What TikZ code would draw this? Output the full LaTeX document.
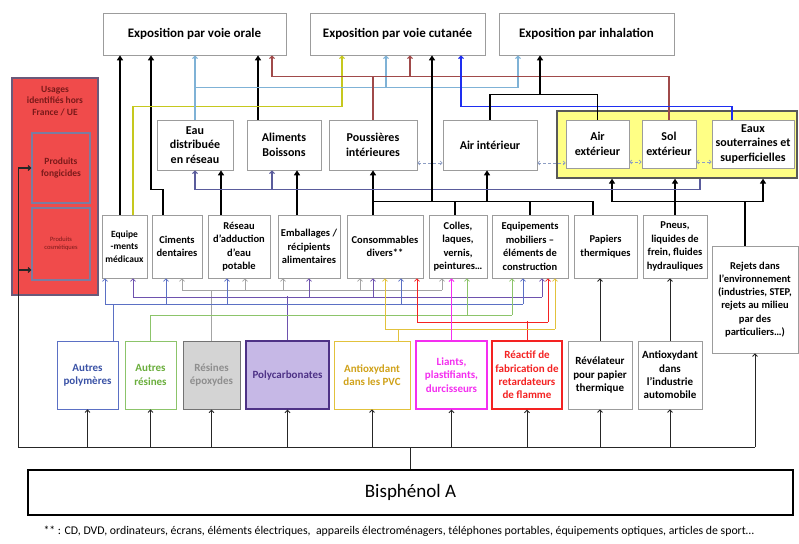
\documentclass[tikz,border=0pt]{standalone}
\usepackage{fontspec}
\setmainfont{Carlito}
\usetikzlibrary{arrows.meta,positioning}

\definecolor{boxgrey}{HTML}{9C9C9C}
\definecolor{cUsRed}{HTML}{F04B4B}
\definecolor{cUsText}{HTML}{7A1A1A}
\definecolor{cUsEdge}{HTML}{6A5A7A}
\definecolor{cUsInner}{HTML}{7C7CA0}
\definecolor{cEnv}{HTML}{FFFF85}
\definecolor{cLtBlue}{HTML}{7FB2D6}
\definecolor{cLime}{HTML}{C6C81E}
\definecolor{cMaroon}{HTML}{A04A4A}
\definecolor{cSlate}{HTML}{5A5C9C}
\definecolor{cBlue}{HTML}{1E2EF0}
\definecolor{cLink}{HTML}{8E9EC4}
\definecolor{cPoly}{HTML}{5B70C4}
\definecolor{cPolyT}{HTML}{3A52A6}
\definecolor{cRes}{HTML}{8CC46A}
\definecolor{cResT}{HTML}{6AAE3C}
\definecolor{cEpo}{HTML}{A4A4A4}
\definecolor{cEpoFill}{HTML}{D4D4D4}
\definecolor{cEpoT}{HTML}{8E8E8E}
\definecolor{cPc}{HTML}{6E52AE}
\definecolor{cPcFill}{HTML}{C6B8E6}
\definecolor{cPcT}{HTML}{4E3286}
\definecolor{cPvc}{HTML}{E2C23C}
\definecolor{cPvcT}{HTML}{D0A21A}
\definecolor{cLia}{HTML}{F42EF0}
\definecolor{cRea}{HTML}{F42222}

\tikzset{
  box/.style={draw=boxgrey, fill=white, align=center, inner sep=1pt, line width=0.6pt},
  expo/.style={box, minimum height=42pt, font=\bfseries\fontsize{13}{15}\selectfont},
  milieu/.style={box, minimum height=50pt, font=\bfseries\fontsize{12}{14.5}\selectfont},
  usage/.style={box, minimum height=63pt, font=\bfseries\fontsize{10.5}{13.5}\selectfont},
  source/.style={box, minimum height=68pt, font=\bfseries\fontsize{11}{13.4}\selectfont},
  envbox/.style={draw=black!65, fill=cEnv, line width=1.3pt},
  redbox/.style={draw=cUsEdge, fill=cUsRed, line width=1.2pt, align=center, text=cUsText},
  bpabox/.style={draw=black, line width=1.6pt, minimum width=765pt, minimum height=45pt,
    font=\fontsize{19}{22}\selectfont},
  blk/.style={black, line width=1.4pt, >={Triangle[length=5pt,width=6pt]}},
  wireb/.style={black!85, line width=0.9pt},
  feed/.style={line width=0.8pt},
  envlink/.style={cLink, densely dashed, line width=0.7pt, >={Straight Barb[length=2pt,width=4pt]}},
}

\begin{document}
\begin{tikzpicture}[x=1pt, y=-1pt, >={Straight Barb[length=2.5pt,width=5pt]}]
  \useasboundingbox (0,0) rectangle (799,543);

  % Define nodes
  % exposure routes
  \node[expo, minimum width=183pt] (orale) at (194.5,34) {Exposition par voie orale};
  \node[expo, minimum width=175pt] (cutanee) at (397.5,34) {Exposition par voie cutanée};
  \node[expo, minimum width=175pt] (inhal) at (586.5,34) {Exposition par inhalation};

  % media
  \node[milieu, minimum width=76pt] (eau) at (195,145) {Eau\\distribuée\\en réseau};
  \node[milieu, minimum width=74pt] (alim) at (284,145) {Aliments\\Boissons};
  \node[milieu, minimum width=88pt] (pouss) at (373,145) {Poussières\\intérieures};
  \node[milieu, minimum width=94pt] (airint) at (490,145) {Air intérieur};
  \node[envbox, minimum width=240pt, minimum height=67pt] (envt) at (677,144.5) {};
  \node[milieu, minimum width=63pt, minimum height=48pt] (airext) at (597.5,144) {Air\\extérieur};
  \node[milieu, minimum width=54pt, minimum height=48pt] (solext) at (669,144) {Sol\\extérieur};
  \node[milieu, minimum width=82pt, minimum height=48pt] (eaux) at (753,144) {Eaux\\souterraines et\\superficielles};

  % products
  \node[usage, minimum width=45pt, font=\bfseries\fontsize{9.5}{12.5}\selectfont] (equip) at (124.5,246.5) {Equipe\\-ments\\médicaux};
  \node[usage, minimum width=50pt] (ciments) at (177,246.5) {Ciments\\dentaires};
  \node[usage, minimum width=62pt] (reseau) at (239,246.5) {Réseau\\d’adduction\\d’eau\\potable};
  \node[usage, minimum width=62pt] (embal) at (309,246.5) {Emballages /\\récipients\\alimentaires};
  \node[usage, minimum width=76pt] (conso) at (385,246.5) {Consommables\\divers**};
  \node[usage, minimum width=58pt] (colles) at (458,246.5) {Colles,\\laques,\\vernis,\\peintures…};
  \node[usage, minimum width=76pt] (mobil) at (530,246.5) {Equipements\\mobiliers –\\éléments de\\construction};
  \node[usage, minimum width=63pt] (papiers) at (605.5,246.5) {Papiers\\thermiques};
  \node[usage, minimum width=64pt] (pneus) at (675,246.5) {Pneus,\\liquides de\\frein, fluides\\hydrauliques};
  \node[box, minimum width=86pt, minimum height=107pt, font=\bfseries\fontsize{10.5}{13.2}\selectfont] (rejets) at (755,299.5) {Rejets dans\\l’environnement\\(industries, STEP,\\rejets au milieu\\par des\\particuliers…)};

  % uses outside France
  \node[redbox, minimum width=86pt, minimum height=217pt] (usages) at (55,186.5) {};
  \node[below=5pt of usages.north, align=center, text=cUsText, font=\bfseries\fontsize{9.5}{11.5}\selectfont] (usagestitle) {Usages\\identifiés hors\\France / UE};
  \node[redbox, draw=cUsInner, minimum width=58pt, minimum height=70pt, font=\bfseries\fontsize{9.5}{11.5}\selectfont] (fongi) at (61,168) {Produits\\fongicides};
  \node[redbox, draw=cUsInner, minimum width=58pt, minimum height=72pt, font=\fontsize{6.5}{8}\selectfont] (cosme) at (61,244) {Produits\\cosmétiques};

  % uses of bisphenol A
  \node[source, minimum width=61pt, draw=cPoly, text=cPolyT] (apoly) at (87.5,375) {Autres\\polymères};
  \node[source, minimum width=51pt, draw=cRes, text=cResT] (ares) at (150.5,375) {Autres\\résines};
  \node[source, minimum width=57pt, draw=black!55, fill=cEpoFill, text=cEpoT, line width=1pt] (repox) at (211.5,375) {Résines\\époxydes};
  \node[source, minimum width=83pt, draw=cPcT, fill=cPcFill, text=cPcT, line width=1.3pt] (pc) at (287.5,375) {Polycarbonates};
  \node[source, minimum width=76pt, draw=cPvc, text=cPvcT] (apvc) at (372,375) {Antioxydant\\dans les PVC};
  \node[source, minimum width=71pt, draw=cLia, text=cLia, line width=1.3pt] (liants) at (451.5,375) {Liants,\\plastifiants,\\durcisseurs};
  \node[source, minimum width=70pt, draw=cRea, text=cRea, line width=1.3pt] (reactif) at (527,375) {Réactif de\\fabrication de\\retardateurs\\de flamme};
  \node[source, minimum width=64pt] (revel) at (600,375) {Révélateur\\pour papier\\thermique};
  \node[source, minimum width=64pt] (aauto) at (670,375) {Antioxydant\\dans\\l’industrie\\automobile};

  \node[bpabox] (bpa) at (410.5,492.5) {Bisphénol A};
  \node[anchor=west, font=\fontsize{11.8}{13}\selectfont] (note) at (40,531) {** : CD, DVD, ordinateurs, écrans, éléments électriques,\ \ appareils électroménagers, téléphones portables, équipements optiques, articles de sport…};

  % Connect the nodes
  % bisphenol A towards its uses
  \path (bpa.north) ++(0,-22) coordinate (bus);
  \path (usages.south west) ++(7,0) coordinate (lfoot);
  \draw[wireb] (bpa.north) -- (bus);
  \draw[wireb] (bus -| lfoot) -- (bus -| rejets);
  \foreach \n in {apoly,ares,repox,pc,apvc,liants,reactif,revel,aauto,rejets}
    \draw[wireb, ->] (bus -| \n) -- (\n.south);
  \draw[wireb, line width=1.2pt, ->] (bus -| lfoot) |- (fongi.west);
  \draw[wireb, line width=1.2pt, ->] (bus -| lfoot) |- ([yshift=-26pt]cosme.west);
  \draw[wireb, ->] (revel.north) -- (revel.north |- papiers.south);
  \draw[wireb, ->] (aauto.north) -- (aauto.north |- pneus.south);

  % uses towards the products
  \draw[feed, cEpo] (repox.north) -- ++(0,-51);
  \draw[feed, cEpo] ([xshift=5pt, yshift=-12pt]ciments.south) -- ([xshift=-16pt, yshift=-12pt]colles.south);
  \foreach \t/\d in {ciments/5, reseau/6, embal/-26, conso/-25, colles/-16}
    \draw[feed, cEpo, <-] ([xshift=\d pt]\t.south) -- ++(0,12);

  \draw[feed, cPc] (pc.north) -- ++(0,-44);
  \draw[feed, cPc] ([xshift=8.5pt, yshift=-19pt]equip.south) -- ([xshift=12pt, yshift=-19pt]mobil.south);
  \foreach \t/\d in {equip/8.5, embal/0, conso/-12, mobil/12}
    \draw[feed, cPc, <-] ([xshift=\d pt]\t.south) -- ++(0,19);

  \draw[feed, cPoly] ([xshift=25.5pt]apoly.north) -- ++(0,-37);
  \draw[feed, cPoly] ([xshift=-19.5pt, yshift=-26pt]equip.south) -- ([xshift=-7pt, yshift=-26pt]mobil.south);
  \foreach \t/\d in {equip/-19.5, ciments/-11, reseau/-12, conso/16, mobil/-7}
    \draw[feed, cPoly, <-] ([xshift=\d pt]\t.south) -- ++(0,26);

  \draw[feed, cRes] (ares.north) -- ++(0,-26);
  \draw[feed, cRes] ([yshift=-37pt]ares.north |- mobil.south) -- ([xshift=-18pt, yshift=-37pt]mobil.south);
  \foreach \t/\d in {colles/9, mobil/-18}
    \draw[feed, cRes, <-] ([xshift=\d pt]\t.south) -- ++(0,37);

  \draw[feed, cRea] (reactif.north) -- ++(0,-19);
  \draw[feed, cRea] ([xshift=32pt, yshift=-44pt]conso.south) -- ([xshift=18pt, yshift=-44pt]mobil.south);
  \foreach \t/\d in {conso/32, mobil/18}
    \draw[feed, cRea, <-] ([xshift=\d pt]\t.south) -- ++(0,44);

  \draw[feed, cPvc] ([xshift=26pt]apvc.north) -- ++(0,-12);
  \draw[feed, cPvc] ([yshift=-51pt]conso.south) -- ([xshift=25pt, yshift=-51pt]mobil.south);
  \foreach \t/\d in {conso/0, mobil/25}
    \draw[feed, cPvc, <-] ([xshift=\d pt]\t.south) -- ++(0,51);

  \draw[feed, cLia, line width=1pt, ->] (liants.north) -- (liants.north |- colles.south);

  % products towards the media
  \draw[blk, ->] ([xshift=-18pt]reseau.north) -- ([xshift=-18pt]reseau.north |- eau.south);
  \draw[blk, ->] ([xshift=-12pt]embal.north) -- ([xshift=-12pt]embal.north |- alim.south);
  \draw[blk, ->] ([xshift=-12pt]conso.north) -- ([xshift=-12pt]conso.north |- pouss.south);
  \draw[blk] ([xshift=-12pt]conso.north) ++(0,-13) -| ([xshift=-12.5pt]papiers.north);
  \draw[blk] ([xshift=-3pt]colles.north) -- ++(0,-13);
  \draw[blk] (mobil.north) -- ++(0,-13);
  \draw[blk, <-] ([xshift=-3pt]airint.south) -- ++(0,32);
  \draw[blk, ->] (pneus.north) -- (pneus.north |- envt.south);
  \draw[blk] ([xshift=-10pt]rejets.north) -- ++(0,-44) coordinate (rj);
  \draw[blk, ->] (rj) -| ([xshift=14.5pt]airext.south |- envt.south);
  \draw[blk, ->] (rj) -| ([xshift=10pt]eaux.south |- envt.south);
  \draw[feed, cSlate, line width=1.1pt, ->] ([xshift=23pt]envt.south) -- ++(0,11) -| (eau.south);
  \draw[feed, cSlate, line width=1.1pt, <-] ([xshift=-12pt]alim.south) -- ++(0,19);
  \foreach \a/\b in {pouss/airint, airint/airext, airext/solext, solext/eaux}
    \draw[envlink, <->] ([yshift=-18pt]\a.east) -- ([yshift=-18pt]\a.east -| \b.west);

  % media towards the exposure routes
  \draw[blk, ->] ([xshift=-4.5pt]equip.north) -- ([xshift=-4.5pt]equip.north |- orale.south);
  \draw[blk, ->] ([xshift=-14pt]ciments.north) -- ++(0,-25) -| ([xshift=-43.5pt]orale.south);
  \draw[blk, ->] ([xshift=-26pt]alim.north) -- ([xshift=-26pt]alim.north |- orale.south);
  \draw[feed, cLime, line width=1.1pt, ->] ([xshift=8.5pt]equip.north) -- ++(0,-108) -| ([xshift=-55.5pt]cutanee.south);
  \draw[feed, cLtBlue, line width=1.1pt, ->] (eau.north) -- (eau.north |- orale.south);
  \draw[feed, cLtBlue, line width=1.1pt, ->] (eau.north) ++(0,-32) -| ([xshift=-68.5pt]inhal.south);
  \draw[feed, cLtBlue, line width=1.1pt, <-] ([xshift=-11.5pt]cutanee.south) -- ++(0,33);
  \draw[feed, cMaroon, line width=1.1pt] (pouss.north) -- ++(0,-43) coordinate (mr);
  \draw[feed, cMaroon, line width=1.1pt, ->] (mr) -| ([xshift=77.5pt]orale.south);
  \draw[feed, cMaroon, line width=1.1pt] (mr) -| (solext.north);
  \draw[feed, cMaroon, line width=1.1pt, <-] ([xshift=12.5pt]cutanee.south) -- ++(0,22);
  \draw[blk, <-] ([xshift=34.5pt]cutanee.south) -- ++(0,147);
  \draw[feed, cBlue, line width=1.2pt, ->] ([xshift=-21pt]eaux.north) -- ++(0,-13) -| ([xshift=63.5pt]cutanee.south);
  \draw[blk] (airint.north) -- ++(0,-25) -| (airext.north);
  \draw[blk, <-] ([xshift=-46.5pt]inhal.south) -- ++(0,40);
\end{tikzpicture}
\end{document}
